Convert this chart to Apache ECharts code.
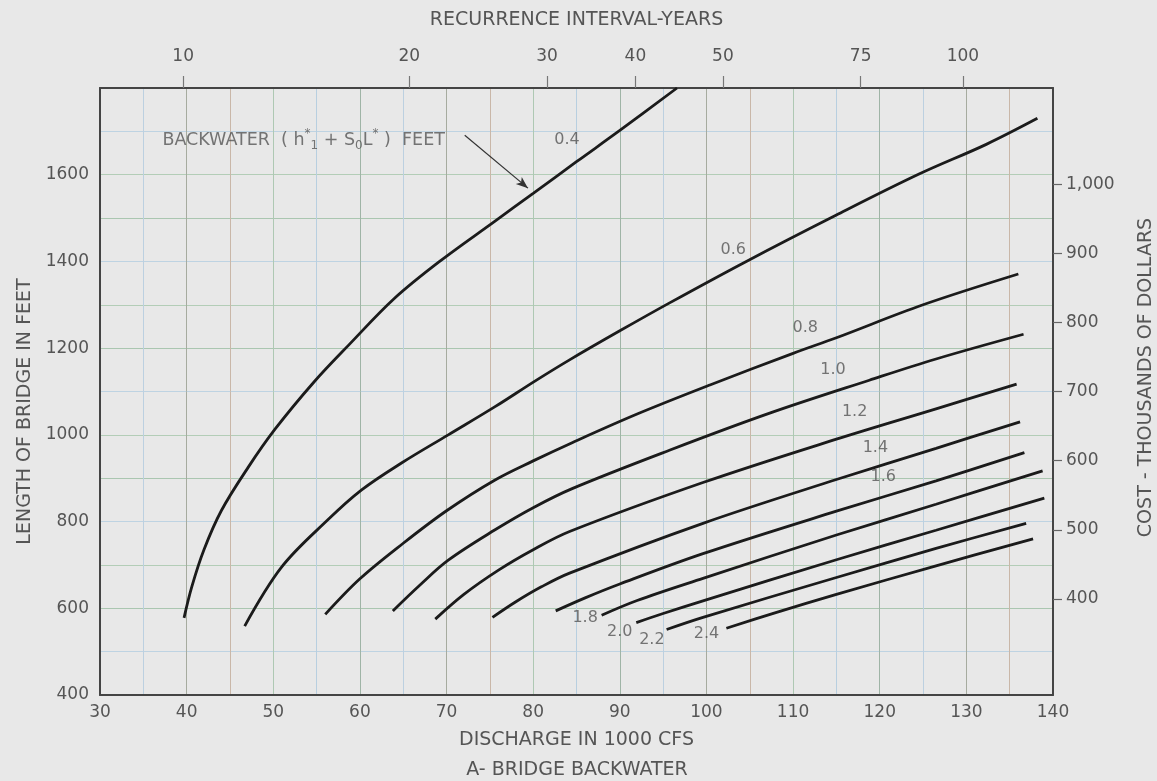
<!DOCTYPE html>
<html>
<head>
<meta charset="utf-8">
<title>Bridge Backwater</title>
<script src="https://cdn.jsdelivr.net/npm/echarts@6/dist/echarts.min.js"></script>
<style>
  html, body { margin: 0; padding: 0; background: #e8e8e8; overflow: hidden; }
  #chart { width: 1157px; height: 781px; }
</style>
</head>
<body>
<div id="chart"></div>
<script>
// ---------- DATA ----------
const dischargeTickLabels = [30, 40, 50, 60, 70, 80, 90, 100, 110, 120, 130, 140];
const lengthTickLabels = [400, 600, 800, 1000, 1200, 1400, 1600];
const costTickLabels = [400, 500, 600, 700, 800, 900, 1000];
const recurrenceYears = [10, 20, 30, 40, 50, 75, 100];
const recurrenceDischarge = [39.6, 65.7, 81.6, 91.8, 101.9, 117.8, 129.6];

const backwaterLevels = ['0.4', '0.6', '0.8', '1.0', '1.2', '1.4', '1.6', '1.8', '2.0', '2.2', '2.4'];

// [discharge (1000 cfs), length of bridge (ft)]
const curve04 = [[39.7, 578], [40.6, 650], [42.0, 735], [44.0, 825], [47.1, 925], [50.2, 1013], [54.7, 1122], [58.7, 1207], [64.0, 1315], [69.4, 1403], [75.6, 1493], [80.0, 1557], [85.0, 1630], [90.0, 1702], [96.6, 1800]];
const curve06 = [[46.7, 559], [51.0, 696], [56.3, 804], [60.2, 873], [64.8, 935], [70.2, 1000], [75.6, 1065], [80.2, 1124], [84.2, 1173], [90.0, 1240], [95.8, 1305], [104.6, 1400], [115.0, 1507], [124.6, 1602], [132.3, 1670], [138.2, 1730]];
const curve08 = [[56.0, 586], [60.0, 668], [65.0, 750], [70.0, 825], [75.6, 896], [80.0, 940], [84.5, 982], [92.0, 1048], [100.4, 1115], [110.0, 1188], [115.0, 1224], [125.0, 1300], [136.0, 1371]];
const curve10 = [[63.8, 594], [67.0, 655], [70.2, 711], [75.6, 781], [80.0, 832], [84.5, 876], [95.8, 965], [107.3, 1050], [118.8, 1126], [126.5, 1175], [136.6, 1232]];
const curve12 = [[68.7, 575], [72.0, 632], [76.0, 688], [80.0, 735], [84.2, 777], [99.6, 890], [115.0, 990], [126.5, 1060], [135.8, 1117]];
const curve14 = [[75.3, 579], [78.0, 615], [81.0, 650], [84.2, 681], [99.6, 796], [115.0, 897], [126.5, 969], [136.2, 1030]];
const curve16 = [[82.6, 594], [86.0, 624], [90.0, 656], [99.6, 726], [115.0, 824], [126.5, 894], [136.7, 959]];
const curve18 = [[87.9, 584], [92.0, 618], [99.6, 669], [115.0, 769], [126.5, 840], [138.8, 917]];
const curve20 = [[91.9, 567], [95.0, 588], [99.6, 617], [115.0, 712], [126.5, 780], [139.0, 854]];
const curve22 = [[95.4, 551], [99.6, 579], [115.0, 671], [126.5, 738], [136.9, 796]];
const curve24 = [[102.3, 554], [108.0, 590], [115.0, 632], [126.5, 698], [137.7, 760]];

const curves = [curve04, curve06, curve08, curve10, curve12, curve14, curve16, curve18, curve20, curve22, curve24];

// where each backwater value is written (discharge, length)
const curveLabelAnchors = [[83.9, 1680], [103.1, 1426], [111.4, 1246], [114.6, 1150], [117.1, 1053], [119.5, 969], [120.4, 903], [86.0, 577], [90.0, 546], [93.7, 527], [100.0, 542]];
// note and its leader arrow (discharge, length)
const noteAnchor = [37.2, 1680];
const noteArrow = [[72.1, 1691], [79.4, 1569]];

// ---------- CHART ----------
const textColor = '#555';
const font = 'DejaVu Sans';
const chart = echarts.init(document.getElementById('chart'), null, { renderer: 'canvas', width: 1157, height: 781 });

const lineSeries = curves.map((c, i) => ({
  type: 'line',
  name: backwaterLevels[i],
  xAxisIndex: 0,
  yAxisIndex: 0,
  data: c,
  smooth: 0.35,
  showSymbol: false,
  symbol: 'none',
  silent: true,
  lineStyle: { color: '#1b1b1b', width: 2.8 },
  z: 5
}));

lineSeries[0].markLine = {
  silent: true,
  symbol: ['none', 'arrow'],
  symbolSize: [7, 12],
  label: { show: false },
  lineStyle: { color: '#333', width: 1.2, type: 'solid' },
  data: [[{ coord: noteArrow[0] }, { coord: noteArrow[1] }]]
};

const option = {
  backgroundColor: '#e8e8e8',
  animation: false,
  textStyle: { fontFamily: font, color: textColor },
  grid: { left: 100, right: 104, top: 88, bottom: 86, containLabel: false, outerBoundsMode: 'none' },
  title: [{
    text: 'A- BRIDGE BACKWATER',
    left: 572, top: 756, textAlign: 'center',
    textStyle: { fontFamily: font, fontSize: 19, fontWeight: 'normal', color: textColor }
  }],
  xAxis: [{
    type: 'value', position: 'bottom', min: 30, max: 140, interval: 5,
    name: 'DISCHARGE IN 1000 CFS', nameLocation: 'middle', nameGap: 36,
    nameTextStyle: { fontFamily: font, fontSize: 19, color: textColor },
    axisLine: { show: true, onZero: false, lineStyle: { color: '#444', width: 2 } },
    axisTick: { show: false },
    axisLabel: { customValues: dischargeTickLabels, fontSize: 17, color: textColor, margin: 9, fontFamily: font, formatter: v => String(v) },
    splitLine: { show: true, lineStyle: { color: ['#9fb4a6', '#bcd0e0', '#a6ab9f', '#c9b7a8', '#aec8b3', '#b8cfe0'], width: 1 } }
  }, {
    type: 'value', position: 'top', min: 30, max: 140,
    name: 'RECURRENCE INTERVAL-YEARS', nameLocation: 'middle', nameGap: 58,
    nameTextStyle: { fontFamily: font, fontSize: 19, color: textColor },
    axisLine: { show: true, onZero: false, lineStyle: { color: '#444', width: 2 } },
    axisTick: { show: true, customValues: recurrenceDischarge, length: 12, lineStyle: { color: '#777', width: 1.2 } },
    axisLabel: {
      customValues: recurrenceDischarge, fontSize: 17, color: textColor, margin: 23, fontFamily: font,
      formatter: v => {
        const i = recurrenceDischarge.findIndex(d => Math.abs(d - v) < 1e-6);
        return i >= 0 ? String(recurrenceYears[i]) : '';
      }
    },
    splitLine: { show: false }
  }],
  yAxis: [{
    type: 'value', position: 'left', min: 400, max: 1800, interval: 100,
    name: 'LENGTH OF BRIDGE IN FEET', nameLocation: 'middle', nameGap: 61, nameRotate: 90,
    nameTextStyle: { fontFamily: font, fontSize: 19, color: textColor, padding: [0, 40, 0, 0] },
    axisLine: { show: true, onZero: false, lineStyle: { color: '#444', width: 2 } },
    axisTick: { show: false },
    axisLabel: { customValues: lengthTickLabels, fontSize: 17, color: textColor, margin: 11, fontFamily: font, formatter: v => String(v) },
    splitLine: { show: true, lineStyle: { color: ['#b3cdb7', '#bed3e2', '#aac6b0'], width: 1 } }
  }, {
    type: 'value', position: 'right', min: 261, max: 1139,
    name: 'COST - THOUSANDS OF DOLLARS', nameLocation: 'middle', nameGap: 84, nameRotate: 90,
    nameTextStyle: { fontFamily: font, fontSize: 19, color: textColor, padding: [0, 0, 0, 28] },
    axisLine: { show: true, onZero: false, lineStyle: { color: '#444', width: 2 } },
    axisTick: { show: true, customValues: costTickLabels, length: 9, lineStyle: { color: '#666', width: 1.2 } },
    axisLabel: {
      customValues: costTickLabels, fontSize: 17, color: textColor, margin: 13, fontFamily: font,
      formatter: v => v.toLocaleString('en-US')
    },
    splitLine: { show: false }
  }],
  series: [
    ...lineSeries,
    {
      type: 'scatter',
      xAxisIndex: 0, yAxisIndex: 0,
      symbolSize: 0, silent: true, z: 6,
      data: curveLabelAnchors.map((p, i) => ({ value: p, name: backwaterLevels[i] })),
      label: {
        show: true, position: 'inside', formatter: p => p.name,
        fontFamily: font, fontSize: 16, color: textColor
      }
    },
    {
      type: 'scatter',
      xAxisIndex: 0, yAxisIndex: 0,
      symbolSize: 0, silent: true, z: 6,
      data: [{ value: noteAnchor }],
      label: {
        show: true, position: 'right', distance: 0,
        formatter: '{n|BACKWATER  ( h}{sup|*}{sub|1}{n| + S}{sub|0}{n|L}{sup|*}{n| )  FEET}',
        rich: {
          n: { fontFamily: font, fontSize: 17.5, color: textColor, lineHeight: 24, verticalAlign: 'middle' },
          sup: { fontFamily: font, fontSize: 12, color: textColor, lineHeight: 24, verticalAlign: 'top' },
          sub: { fontFamily: font, fontSize: 12, color: textColor, lineHeight: 24, verticalAlign: 'bottom' }
        }
      }
    }
  ]
};

chart.setOption(option);
</script>
</body>
</html>
